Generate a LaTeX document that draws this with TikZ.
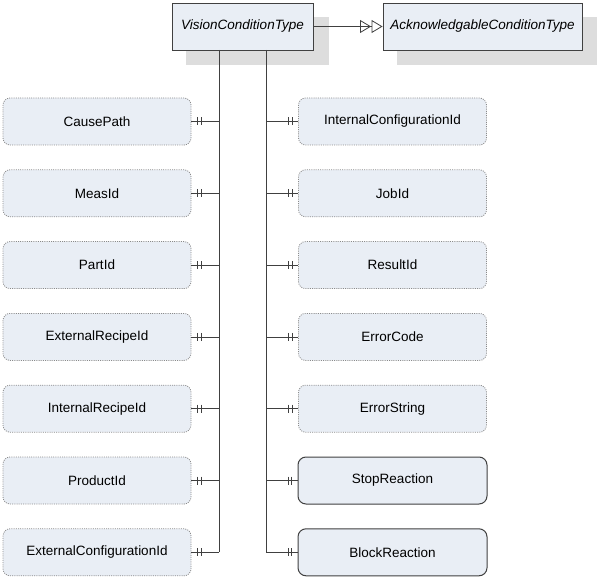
\documentclass[tikz,border=0pt]{standalone}
\usepackage{fontspec}
\setmainfont{Liberation Sans}
\usetikzlibrary{arrows.meta,calc}
\definecolor{boxfill}{HTML}{E9EEF5}
\definecolor{shadowgray}{HTML}{DDDDDD}
\definecolor{dotgray}{HTML}{8A8A8A}
\definecolor{linegray}{HTML}{404040}
\begin{document}
\begin{tikzpicture}[x=1pt,y=-1pt,
  propbox/.style={draw=dotgray,line width=0.8pt,dash pattern=on 1pt off 1.2pt,fill=boxfill,rounded corners=7pt,minimum width=188pt,minimum height=47pt,inner sep=0pt,font=\fontsize{13.5}{16}\selectfont},
  objbox/.style={draw=linegray,line width=1pt,fill=boxfill,rounded corners=8pt,minimum width=189pt,minimum height=47pt,inner sep=0pt,font=\fontsize{13.5}{16}\selectfont},
  typebox/.style={draw=linegray,line width=0.9pt,fill=boxfill,minimum height=47pt,inner sep=0pt,font=\itshape\fontsize{13.5}{16}\selectfont},
  conn/.style={draw=linegray,line width=0.8pt},
  tick/.style={draw=linegray,line width=0.8pt}
]
\useasboundingbox (0,0) rectangle (600,580);
% shadows
\fill[shadowgray] (186,17) rectangle (329,65);
\fill[shadowgray] (397,17) rectangle (597,65);
% type boxes
\node[typebox,minimum width=141pt] (vct) at (242.5,26.5) {VisionConditionType};
\node[typebox,minimum width=199pt] (act) at (482.5,26.5) {AcknowledgableConditionType};
% generalization with double open triangle
\coordinate (tri) at ($(act.west)+(-11.5,0)$);
\draw[conn] (vct.east) -- (tri);
\draw[conn,-{Triangle[open,length=11pt,width=13pt]}] (tri) -- (act.west);
\draw[conn,-{Triangle[open,length=11pt,width=13pt]}] ($(tri)+(-11.5,0)$) -- (tri);
% vertical lines
\coordinate (lt) at (219,50);
\coordinate (rt) at (266,50);
\coordinate (lb) at (219,552);
\coordinate (rb) at (266,552);
\draw[conn] (lt) -- (lb);
\draw[conn] (rt) -- (rb);
% left boxes
\foreach \n/\t [count=\i from 0] in {l1/CausePath,l2/MeasId,l3/PartId,l4/ExternalRecipeId,l5/InternalRecipeId,l6/ProductId,l7/ExternalConfigurationId}{
  \node[propbox] (\n) at (97,121.5+71.8*\i) {\t};
  \coordinate (\n c) at (219,121.5+71.8*\i);
  \draw[conn] (\n.east) -- (\n c);
  \draw[tick] ($(\n.east)+(6,-4)$) -- ++(0,8);
  \draw[tick] ($(\n.east)+(9.5,-4)$) -- ++(0,8);
}
% right boxes
\foreach \n/\t [count=\i from 0] in {r1/InternalConfigurationId,r2/JobId,r3/ResultId,r4/ErrorCode,r5/ErrorString}{
  \node[propbox] (\n) at (392.5,121.5+71.8*\i) {\t};
  \coordinate (\n c) at (266,121.5+71.8*\i);
  \draw[conn] (\n c) -- (\n.west);
  \draw[tick] ($(\n.west)+(-6,-4)$) -- ++(0,8);
  \draw[tick] ($(\n.west)+(-9.5,-4)$) -- ++(0,8);
}
\foreach \n/\t [count=\i from 5] in {r6/StopReaction,r7/BlockReaction}{
  \node[objbox] (\n) at (392.5,121.5+71.8*\i) {\t};
  \coordinate (\n c) at (266,121.5+71.8*\i);
  \draw[conn] (\n c) -- (\n.west);
  \draw[tick] ($(\n.west)+(-6,-4)$) -- ++(0,8);
  \draw[tick] ($(\n.west)+(-9.5,-4)$) -- ++(0,8);
}
\end{tikzpicture}
\end{document}
